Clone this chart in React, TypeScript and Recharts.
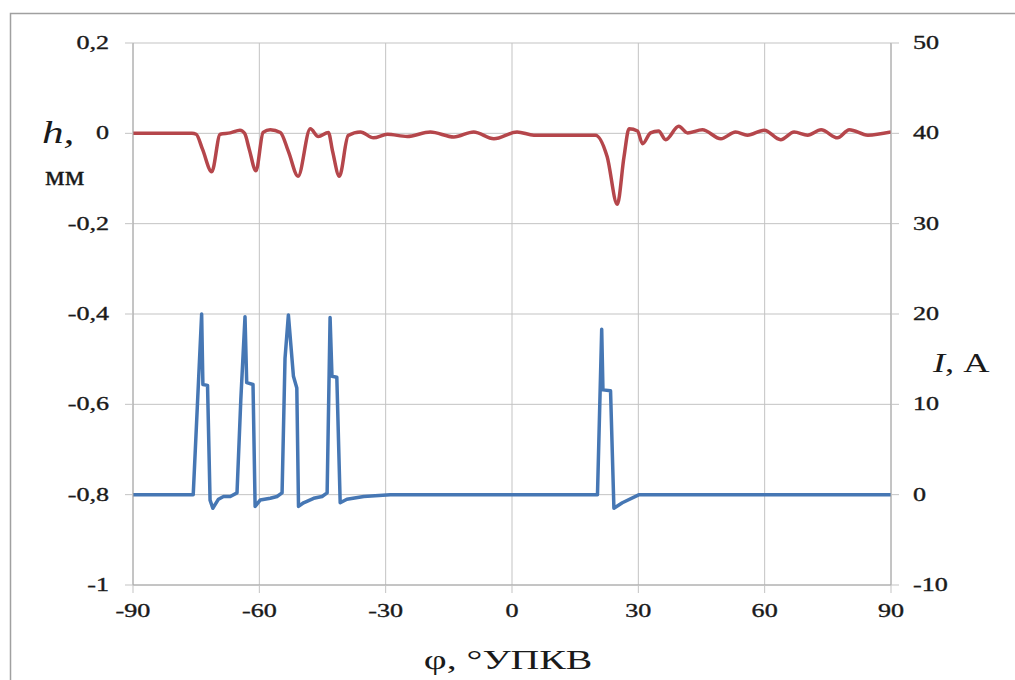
import React from 'react'
import { LineChart, Line, XAxis, YAxis, CartesianGrid } from 'recharts'

// crank angle, deg
const phiH = [
  -90, -76, -75, -73.5, -71.3, -69.3, -66.9, -64.6, -63.5, -62.4, -60.8, -59.1, -57.4, -55.0, -53.1,
  -50.8, -47.9, -46.0, -43.6, -42.6, -41.0, -38.9, -36.0, -32.9, -29.6, -24.9, -19.4, -13.8, -9.1,
  -4.3, 1.2, 5.2, 19.8, 22.6, 25.0, 26.6, 27.8, 29.8, 31.0, 32.9, 34.8, 36.5, 39.6, 41.7, 45.2, 49.6,
  53.1, 55.9, 59.9, 63.8, 67.0, 70.2, 73.4, 77.3, 80.1, 84.5, 90,
]
// needle lift, mm
const hMm = [
  0, 0, -0.002, -0.035, -0.085, -0.002, 0.001, 0.007, 0.0, -0.035, -0.083, 0.002, 0.008, 0.002, -0.04,
  -0.095, 0.01, -0.007, 0.002, -0.04, -0.095, -0.005, 0.003, -0.01, -0.002, -0.007, 0.003, -0.008,
  0.003, -0.012, 0.003, -0.004, -0.004, -0.052, -0.157, -0.052, 0.01, 0.005, -0.023, 0.001, 0.005,
  -0.014, 0.0155, 0.001, 0.008, -0.012, 0.003, -0.004, 0.007, -0.014, 0.003, -0.004, 0.008, -0.01,
  0.008, -0.004, 0.003,
]

const phiI = [
  -90, -75.7, -73.7, -73.4, -72.3, -71.7, -71.05, -69.7, -68.5, -66.9, -65.3, -64.4, -63.4, -63.0,
  -61.5, -61.0, -59.8, -57.4, -55.8, -54.6, -53.9, -53.1, -51.9, -51.1, -50.7, -49.5, -47.1, -45.1,
  -43.9, -43.2, -42.75, -41.6, -40.8, -39.2, -35.2, -28.9, 20.3, 21.3, 21.6, 23.4, 24.2, 26.2, 30.2, 90,
]
// coil current, A
const iAmp = [
  0, 0, 20, 12.2, 12.1, -0.6, -1.5, -0.5, -0.2, -0.2, 0.2, 10.5, 19.7, 12.4, 12.2, -1.3, -0.6, -0.4,
  -0.2, 0.2, 15.1, 19.9, 13.1, 11.8, -1.3, -0.9, -0.4, -0.2, 0.2, 19.6, 13.1, 13.0, -0.9, -0.5, -0.2,
  0, 0, 18.3, 11.6, 11.5, -1.5, -0.9, 0, 0,
]

const phiTicks = [-90, -60, -30, 0, 30, 60, 90]
const hTicks = [-1, -0.8, -0.6, -0.4, -0.2, 0, 0.2]
const iTicks = [-10, 0, 10, 20, 30, 40, 50]

const hData = phiH.map((phi, k) => ({ phi, h: hMm[k] }))
const iData = phiI.map((phi, k) => ({ phi, i: iAmp[k] }))

const SERIF = "'Liberation Serif', 'Times New Roman', serif"
const STRETCH = 1.45
const GRID = '#c3c3c3'
const AXIS = '#a8a8a8'
const INK = '#1a1a1a'

const fmt = (v: number) => (Number.isInteger(v) ? String(v) : v.toFixed(1).replace('.', ','))

function TickText({ x, y, payload, anchor, dy }: any) {
  return (
    <text
      transform={`translate(${x},${y}) scale(${STRETCH},1)`}
      x={0}
      y={dy}
      textAnchor={anchor}
      fontFamily={SERIF}
      fontSize={18}
      fill={INK}
      stroke={INK}
      strokeWidth={0.35}
    >
      {fmt(payload.value)}
    </text>
  )
}

function Titles() {
  return (
    <svg
      width={1015}
      height={680}
      style={{ position: 'absolute', left: 0, top: 0, pointerEvents: 'none' }}
      fontFamily={SERIF}
      fill={INK}
    >
      <rect x={10.5} y={13.5} width={1030} height={700} fill='none' stroke='#a0a0a0' strokeWidth={1.5} />
      <text transform='translate(42,143) scale(1.35,1)' fontSize={32} fontStyle='italic'>
        h,
      </text>
      <text transform='translate(45,185) scale(1.15,1)' fontSize={27} stroke={INK} strokeWidth={0.3}>
        мм
      </text>
      <text transform='translate(933,372) scale(1.3,1)' fontSize={28}>
        <tspan fontStyle='italic'>I</tspan>, А
      </text>
      <text transform='translate(508,669) scale(1.42,1)' fontSize={28} textAnchor='middle'>
        φ, °УПКВ
      </text>
    </svg>
  )
}

export default function App() {
  return (
    <div style={{ position: 'absolute', left: 0, top: 0, width: 1015, height: 680, background: '#fff' }}>
      <LineChart width={1015} height={680} margin={{ top: 43, right: 0, bottom: 0, left: 0 }}>
        <CartesianGrid yAxisId='h' stroke={GRID} strokeWidth={1} />
        <XAxis
          type='number'
          dataKey='phi'
          domain={[-90, 90]}
          ticks={phiTicks}
          allowDataOverflow
          height={95}
          tickSize={8}
          tickMargin={4}
          stroke={AXIS}
          tickLine={{ stroke: GRID }}
          tick={(p: any) => <TickText {...p} anchor='middle' dy={20} />}
        />
        <YAxis
          yAxisId='h'
          domain={[-1, 0.2]}
          ticks={hTicks}
          allowDataOverflow
          width={133}
          tickSize={8}
          tickMargin={16}
          stroke={AXIS}
          tickLine={{ stroke: GRID }}
          tick={(p: any) => <TickText {...p} anchor='end' dy={6} />}
        />
        <YAxis
          yAxisId='i'
          orientation='right'
          domain={[-10, 50]}
          ticks={iTicks}
          allowDataOverflow
          width={124}
          tickSize={8}
          tickMargin={14}
          stroke={AXIS}
          tickLine={{ stroke: GRID }}
          tick={(p: any) => <TickText {...p} anchor='start' dy={6} />}
        />
        <Line
          yAxisId='h'
          data={hData}
          dataKey='h'
          type='monotone'
          stroke='#b5464b'
          strokeWidth={3.5}
          dot={false}
          isAnimationActive={false}
        />
        <Line
          yAxisId='i'
          data={iData}
          dataKey='i'
          type='linear'
          stroke='#4677b4'
          strokeWidth={3.5}
          strokeLinejoin='round'
          dot={false}
          isAnimationActive={false}
        />
      </LineChart>
      <Titles />
    </div>
  )
}
